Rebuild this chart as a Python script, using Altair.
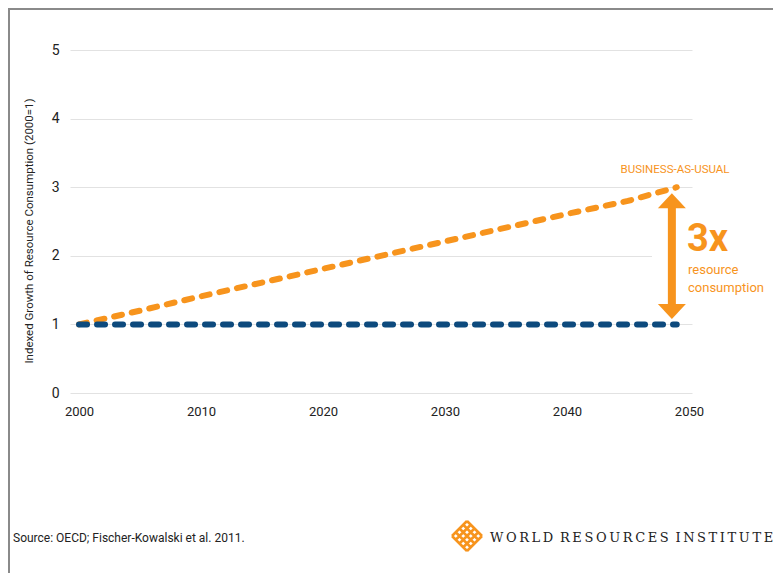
import altair as alt
import pandas as pd

# ---- data ----
years = [2000, 2005, 2010, 2015, 2020, 2025, 2030, 2035, 2040, 2045, 2049]
bau = [1.0, 1.2, 1.41, 1.61, 1.81, 2.01, 2.21, 2.41, 2.61, 2.80, 3.0]
flat = [1.0, 1.0, 1.0, 1.0, 1.0, 1.0, 1.0, 1.0, 1.0, 1.0, 1.0]
series_names = ["Business-as-usual", "Flat"]
x_ticks = [2000, 2010, 2020, 2030, 2040, 2050]
y_ticks = [0, 1, 2, 3, 4, 5]
arrow_year = [2048.6]
arrow_top = [2.91]
arrow_bottom = [1.08]

ORANGE = "#f7941d"
BLUE = "#0d4a7d"
COND = "Roboto"

df = pd.DataFrame({
    "year": years + years,
    "value": bau + flat,
    "series": [series_names[0]] * len(years) + [series_names[1]] * len(years),
})

xs = alt.Scale(domain=[1999.26, 2050.25], nice=False, zero=False)
ys = alt.Scale(domain=[0, 5], nice=False)

x_enc = alt.X("year:Q", scale=xs, axis=alt.Axis(values=x_ticks, format="d", title=None, grid=False,
              domain=False, ticks=False, labelPadding=12, labelFontSize=13, labelFont=COND,
              labelColor="#222"))
y_enc = alt.Y("value:Q", scale=ys, axis=alt.Axis(values=y_ticks, format="d", title=None, grid=True,
              gridColor="#e2e2e2", gridWidth=1, domain=False, ticks=False, labelPadding=11,
              labelFontSize=14, labelFont=COND, labelColor="#222"))

lines = alt.Chart(df).mark_line(strokeWidth=6, strokeDash=[8, 10], strokeCap="round").encode(
    x=x_enc, y=y_enc,
    color=alt.Color("series:N", scale=alt.Scale(domain=series_names, range=[ORANGE, BLUE]), legend=None),
    order=alt.Order("series:N", sort="descending"),
)

# white patch hiding the grid behind the annotation
patch = alt.Chart(pd.DataFrame({"a": [0]})).mark_rect(color="white").encode(
    x=alt.value(582), x2=alt.value(640), y=alt.value(150), y2=alt.value(250))

arr = pd.DataFrame({"year": arrow_year, "top": arrow_top, "bottom": arrow_bottom})
shaft = alt.Chart(arr).transform_calculate(
    t="datum.top - 0.2", b="datum.bottom + 0.2"
).mark_rule(color=ORANGE, strokeWidth=8).encode(
    x=alt.X("year:Q", scale=xs), y=alt.Y("t:Q", scale=ys), y2="b:Q")
head_up = alt.Chart(arr).mark_point(shape="M0,0L1,1.07L-1,1.07Z", size=784, filled=True,
                                    color=ORANGE, opacity=1, strokeWidth=0).encode(
    x=alt.X("year:Q", scale=xs), y=alt.Y("top:Q", scale=ys))
head_down = alt.Chart(arr).mark_point(shape="M0,0L1,-1.07L-1,-1.07Z", size=784, filled=True,
                                      color=ORANGE, opacity=1, strokeWidth=0).encode(
    x=alt.X("year:Q", scale=xs), y=alt.Y("bottom:Q", scale=ys))


def txt(s, px, py, **kw):
    return alt.Chart(pd.DataFrame({"t": [s]})).mark_text(**kw).encode(
        x=alt.value(px), y=alt.value(py), text="t:N")


bau_lbl = txt("BUSINESS-AS-USUAL", 605, 120, font=COND, fontSize=11.5, color=ORANGE,
              align="center", baseline="middle")
three = txt("3x", 617, 201, font=COND, fontSize=38, fontWeight="bold", color=ORANGE,
            align="left", baseline="alphabetic")
res1 = txt("resource", 618, 224, font=COND, fontSize=13, color=ORANGE, align="left",
           baseline="alphabetic")
res2 = txt("consumption", 618, 242, font=COND, fontSize=13, color=ORANGE, align="left",
           baseline="alphabetic")
ytitle = txt("Indexed Growth of Resource Consumption (2000=1)", -40, 181, font=COND, fontSize=11.5,
             color="#222", angle=270, align="center", baseline="middle")
source = txt("Source: OECD; Fischer-Kowalski et al. 2011.", -57, 492, font=COND, fontSize=12,
             color="#222", align="left", baseline="alphabetic")

th = "\u2009"
wri_words = ["WORLD", "RESOURCES", "INSTITUTE"]
wri_text = (" " + th).join(th.join(w) for w in wri_words)
wri = txt(wri_text, 420, 492, font="DejaVu Serif", fontSize=13, color="#222", align="left",
          baseline="alphabetic")

# lattice logo as a custom symbol
vals = [-1, -0.5, 0, 0.5, 1]
segs = []
for c in vals:
    segs.append(f"M{(c - 1) / 2},{(c + 1) / 2}L{(c + 1) / 2},{(c - 1) / 2}")
for d in vals:
    segs.append(f"M{(d - 1) / 2},{(-1 - d) / 2}L{(d + 1) / 2},{(1 - d) / 2}")
logo_path = "".join(segs)
logo = alt.Chart(pd.DataFrame({"a": [0]})).mark_point(
    shape=logo_path, size=900, filled=False, stroke=ORANGE, strokeWidth=2.6, opacity=1
).encode(x=alt.value(397), y=alt.value(486))

border_top = alt.Chart(pd.DataFrame({"a": [0]})).mark_rule(color="#8a8a8a", strokeWidth=2).encode(
    x=alt.value(-61), x2=alt.value(703), y=alt.value(-41))
border_left = alt.Chart(pd.DataFrame({"a": [0]})).mark_rule(color="#8a8a8a", strokeWidth=2).encode(
    x=alt.value(-61), y=alt.value(-42), y2=alt.value(523))

chart = alt.layer(
    lines, patch, shaft, head_up, head_down, bau_lbl, three, res1, res2, ytitle, source, wri,
    logo, border_top, border_left
).properties(
    width=622, height=343,
    autosize=alt.AutoSizeParams(type="none"),
    padding={"left": 62, "top": 42, "right": 81, "bottom": 180},
).configure_view(stroke=None)

chart.save("out.html", embed_options={"renderer": "svg", "actions": False})
